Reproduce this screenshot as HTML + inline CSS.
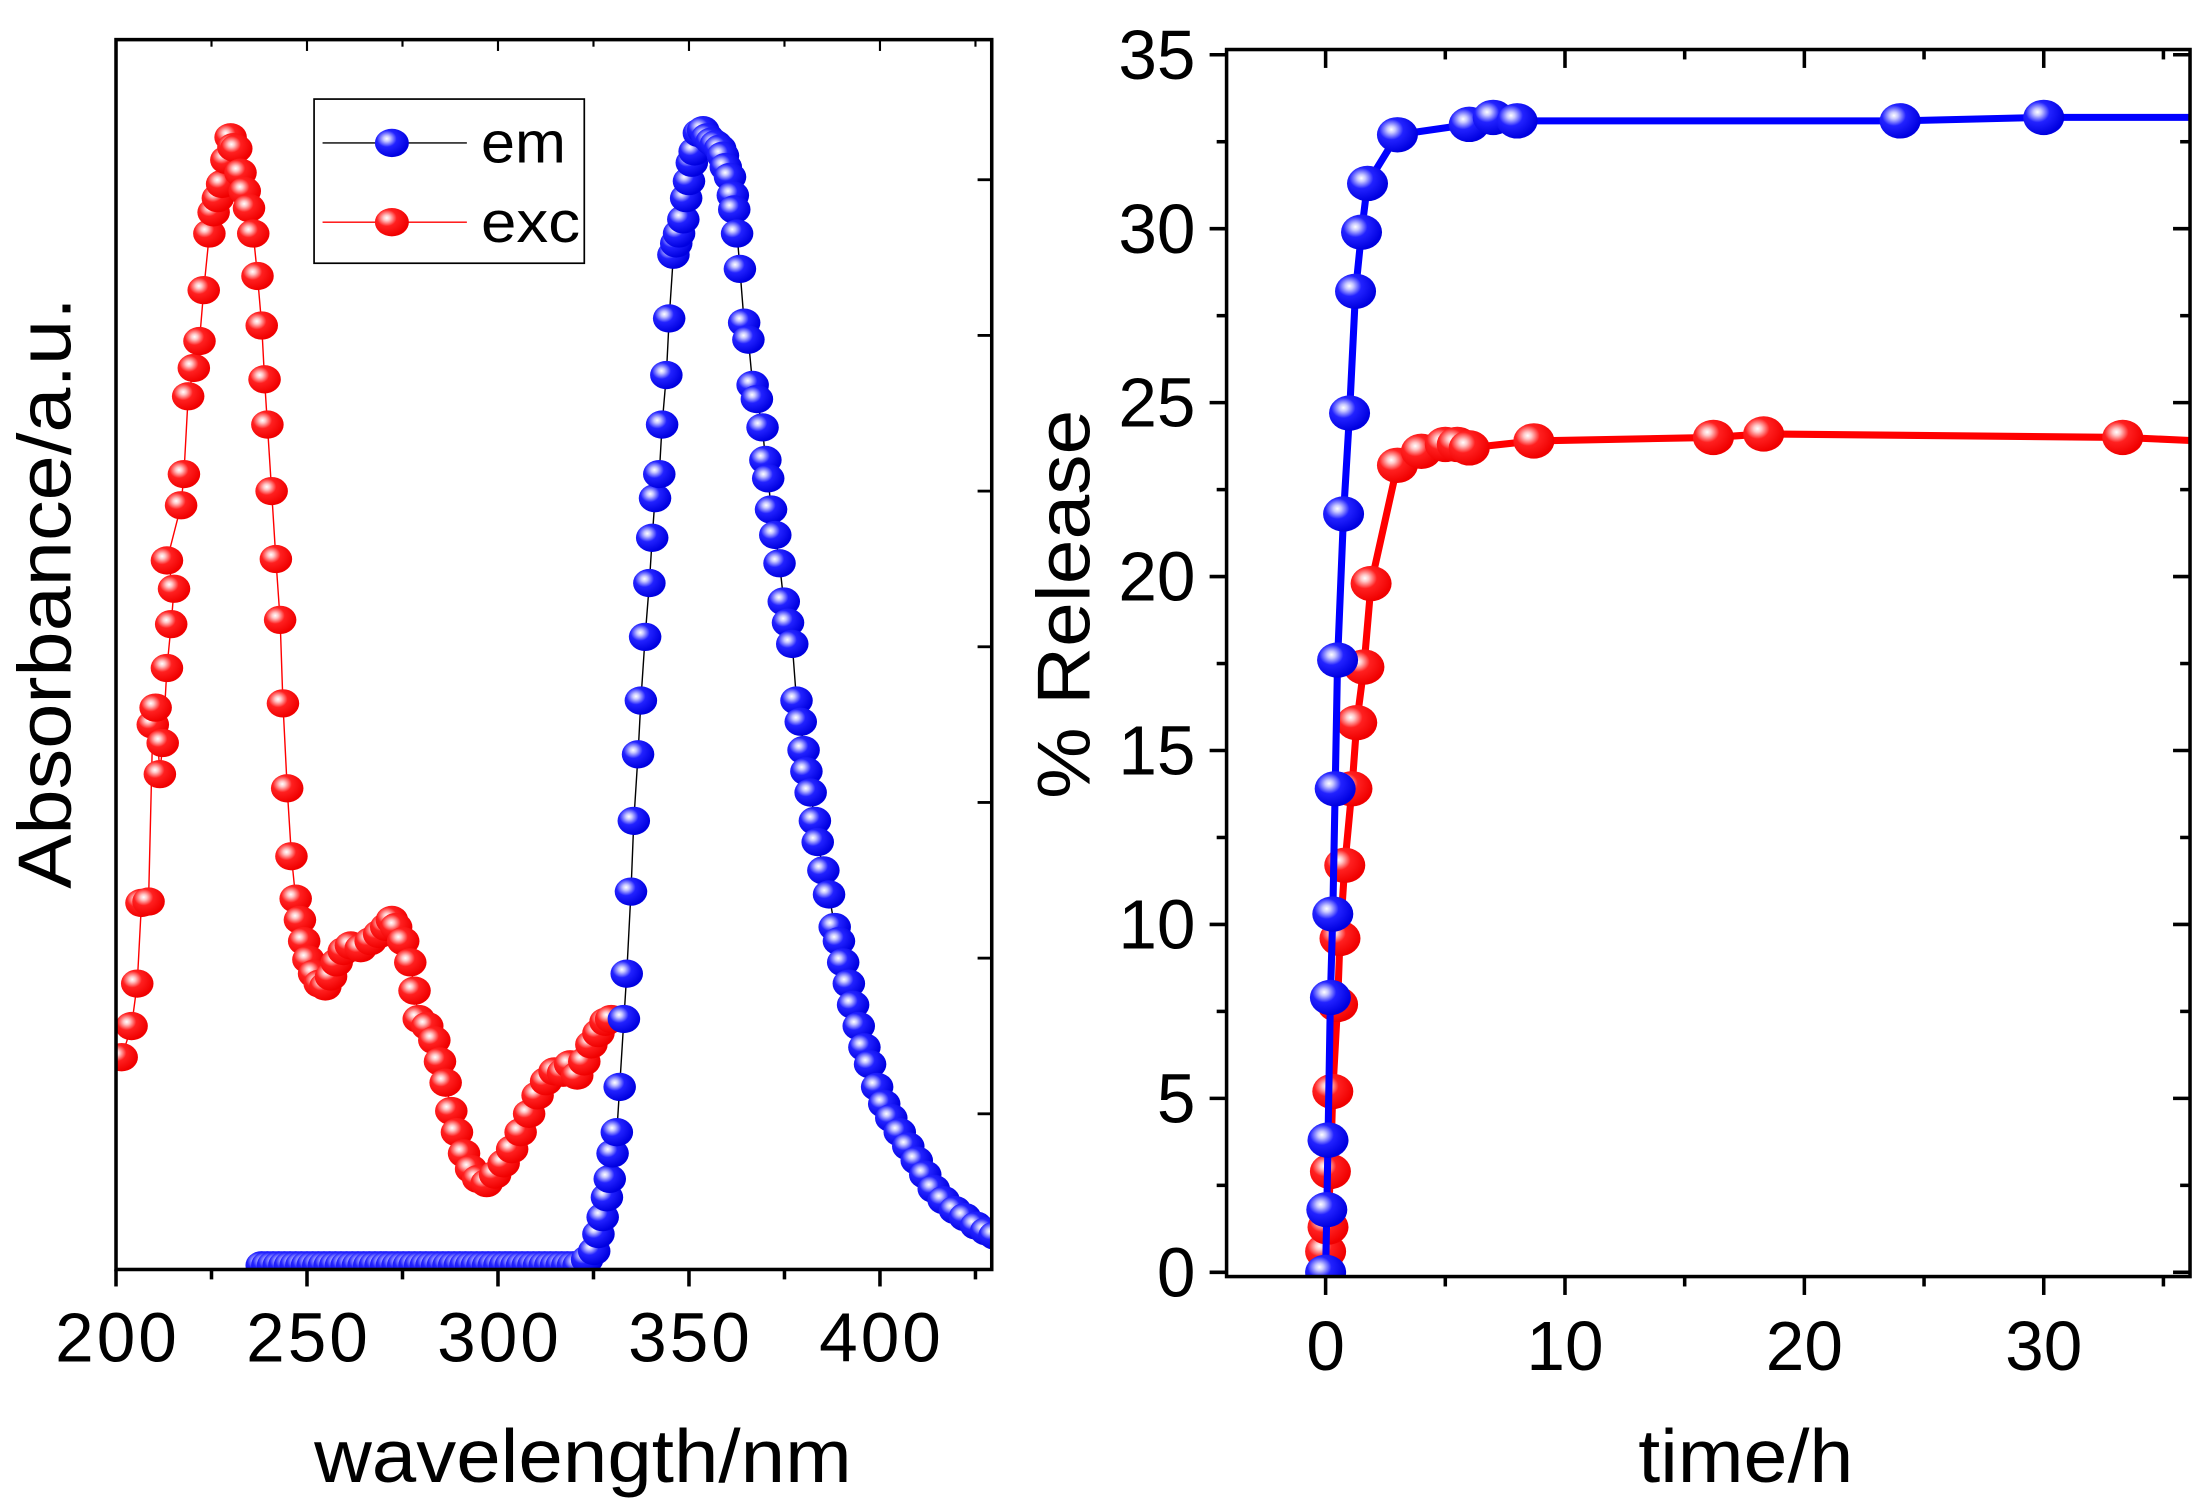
<!DOCTYPE html>
<html><head><meta charset="utf-8"><style>html,body{margin:0;padding:0;background:#fff}svg{display:block}</style></head>
<body>
<svg id="s" xmlns="http://www.w3.org/2000/svg" width="2207" height="1503" viewBox="0 0 1560 1062" preserveAspectRatio="none" font-family="Liberation Sans, Arial, sans-serif">
<defs>
<radialGradient id="gb" cx="0.35" cy="0.35" r="0.65"><stop offset="0" stop-color="#fff"/><stop offset="0.15" stop-color="#c8c8ff"/><stop offset="0.45" stop-color="#2222ff"/><stop offset="1" stop-color="#0000e0"/></radialGradient>
<radialGradient id="gr" cx="0.35" cy="0.35" r="0.65"><stop offset="0" stop-color="#fff"/><stop offset="0.15" stop-color="#ffc8c8"/><stop offset="0.45" stop-color="#ff2020"/><stop offset="1" stop-color="#f00000"/></radialGradient>
<clipPath id="c1"><rect x="82" y="28" width="619" height="869"/></clipPath>
<clipPath id="c2"><rect x="867" y="35" width="681" height="867"/></clipPath>
</defs>
<g id="L" clip-path="url(#c1)"></g>
<g id="R" clip-path="url(#c2)"></g>
<g id="ax" stroke="#000" fill="none"></g>
<g font-size="49" fill="#000">
<text x="82" y="962" text-anchor="middle" textLength="86">200</text><text x="217" y="962" text-anchor="middle" textLength="86">250</text><text x="352" y="962" text-anchor="middle" textLength="86">300</text><text x="487" y="962" text-anchor="middle" textLength="86">350</text><text x="622" y="962" text-anchor="middle" textLength="86">400</text>
<text x="412" y="1047" text-anchor="middle" font-size="53" textLength="380" lengthAdjust="spacingAndGlyphs">wavelength/nm</text>
<text transform="translate(50,419) rotate(-90)" text-anchor="middle" font-size="53" textLength="418" lengthAdjust="spacingAndGlyphs">Absorbance/a.u.</text>
<text x="1234" y="1047" text-anchor="middle" font-size="53" textLength="152" lengthAdjust="spacingAndGlyphs">time/h</text>
<text transform="translate(770,427) rotate(-90)" text-anchor="middle" font-size="53" textLength="275" lengthAdjust="spacingAndGlyphs">% Release</text>
</g>
<g id="Rl" font-size="49"></g>
<g>
<rect x="222" y="70" width="191" height="116" fill="#fff" stroke="#000" stroke-width="1.2"/>
<line x1="228" y1="101" x2="330" y2="101" stroke="#000" stroke-width="1"/>
<line x1="228" y1="157" x2="330" y2="157" stroke="#f00" stroke-width="1"/>
<ellipse cx="277" cy="101" rx="12" ry="10" fill="url(#gb)"/>
<ellipse cx="277" cy="157" rx="12" ry="10" fill="url(#gr)"/>
<text x="340" y="115" font-size="41" textLength="60" lengthAdjust="spacingAndGlyphs">em</text>
<text x="340" y="171" font-size="41" textLength="70" lengthAdjust="spacingAndGlyphs">exc</text>
</g>
</svg>
<script>
var NS="http://www.w3.org/2000/svg";
function el(p,t,a){var e=document.createElementNS(NS,t);for(var k in a)e.setAttribute(k,a[k]);p.appendChild(e);return e;}
var L=document.getElementById('L'),R=document.getElementById('R'),ax=document.getElementById('ax'),Rl=document.getElementById('Rl');
var red=[[86,747],[93,725],[97,695],[100,638],[105,637],[108,512],[110,500],[113,547],[115,525],[118,472],[121,441],[123,416],[118,396],[128,357],[130,335],[133,280],[137,260],[141,241],[144,205],[148,165],[151,150],[154,140],[157,130],[160,113],[163,97],[165,104],[167,105],[170,122],[173,135],[176,147],[179,165],[182,195],[185,230],[187,268],[189,300],[192,347],[195,395],[198,438],[200,497],[203,557],[206,605],[209,635],[212,650],[215,665],[218,678],[222,688],[226,695],[230,697],[234,690],[238,680],[243,672],[248,668],[255,670],[262,665],[268,660],[273,655],[277,650],[280,655],[285,665],[290,680],[293,700],[296,720],[302,725],[307,735],[311,750],[315,765],[319,785],[323,800],[328,815],[333,826],[338,833],[344,836],[350,830],[356,822],[362,812],[368,800],[374,787],[380,774],[386,764],[392,757],[398,758],[403,752],[408,760],[413,750],[418,738],[423,730],[428,722],[432,720]];
var blue=[];for(var x=185;x<=410;x+=4)blue.push([x,894]);
blue=blue.concat([[415,890],[420,884],[423,872],[426,860],[429,846],[431,833],[433,815],[436,800],[438,768],[441,720],[443,688],[446,630],[448,580],[451,533],[453,495],[456,450],[459,412],[461,380],[463,352],[466,335],[468,300],[471,265],[473,225],[476,180],[478,172],[480,165],[483,155],[485,140],[487,128],[489,115],[491,107],[494,94],[497,92],[500,97],[503,100],[506,102],[509,105],[511,110],[513,118],[516,125],[518,138],[519,148],[521,165],[523,190],[526,228],[529,240],[532,272],[535,282],[539,302],[541,325],[543,338],[545,360],[548,378],[551,398],[554,425],[557,440],[560,455],[563,495],[566,510],[568,530],[570,545],[573,560],[576,580],[578,595],[582,615],[586,632],[590,655],[593,665],[596,680],[600,695],[603,710],[607,725],[611,740],[615,752],[620,768],[625,780],[630,790],[636,800],[642,810],[648,820],[654,830],[660,840],[667,848],[675,855],[682,860],[690,866],[697,870],[703,873]]);
function series(g,pts,col,lw,grad,rx,ry){el(g,'polyline',{points:pts.map(function(p){return p.join(',')}).join(' '),fill:'none',stroke:col,'stroke-width':lw});pts.forEach(function(p){el(g,'ellipse',{cx:p[0],cy:p[1],rx:rx,ry:ry,fill:grad});});}
series(L,red,'#f00',1,'url(#gr)',11.5,10);
series(L,blue,'#000',1,'url(#gb)',11.5,10);
function X(t){return 937+t*16.92}function Y(v){return 899-v*24.58}
var rb=[[0,0],[0.05,1.8],[0.1,3.8],[0.2,7.9],[0.3,10.3],[0.4,13.9],[0.5,17.6],[0.75,21.8],[1,24.7],[1.25,28.2],[1.5,29.9],[1.75,31.3],[3,32.7],[6,33.0],[7,33.2],[8,33.1],[24,33.1],[30,33.2]];
var rr=[[0,0.6],[0.1,1.3],[0.2,2.9],[0.3,5.2],[0.5,7.7],[0.6,9.6],[0.8,11.7],[1.1,13.9],[1.3,15.8],[1.6,17.4],[1.9,19.8],[3,23.2],[4,23.6],[5,23.8],[5.5,23.8],[6,23.7],[8.7,23.9],[16.2,24.0],[18.3,24.1],[33.3,24.0]];
function rs(d,col,grad,end){var p=d.map(function(q){return [X(q[0]),Y(q[1])]});var lp=p.slice();lp.push([X(36.5),Y(end)]);
el(R,'polyline',{points:lp.map(function(q){return q.join(',')}).join(' '),fill:'none',stroke:col,'stroke-width':5,'stroke-linejoin':'round'});
p.forEach(function(q){el(R,'ellipse',{cx:q[0],cy:q[1],rx:14.5,ry:12.5,fill:grad});});}
rs(rr,'#f00','url(#gr)',23.9);
rs(rb,'#00f','url(#gb)',33.2);
el(ax,'rect',{x:82,y:28,width:619,height:869,'stroke-width':2.5});
for(var w=200;w<=425;w+=25){var xx=82+(w-200)*2.7;var mj=(w%50==0);el(ax,'line',{x1:xx,y1:897,x2:xx,y2:897+(mj?12:7),'stroke-width':2.5});el(ax,'line',{x1:xx,y1:28,x2:xx,y2:28+(mj?8:5),'stroke-width':1.5});}
for(var k=1;k<=7;k++){var yy=897-k*110;el(ax,'line',{x1:701,y1:yy,x2:691,y2:yy,'stroke-width':2});}
el(ax,'rect',{x:867,y:35,width:681,height:867,'stroke-width':2.5});
for(var v=0;v<=35;v+=2.5){var yy=Y(v);var mj=(v%5==0);el(ax,'line',{x1:867,y1:yy,x2:867-(mj?12:7),y2:yy,'stroke-width':2.5});el(ax,'line',{x1:1548,y1:yy,x2:1548-(mj?12:7),y2:yy,'stroke-width':2.5});
if(mj){var t=el(Rl,'text',{x:845,y:yy+17,'text-anchor':'end'});t.textContent=v;}}
for(var t0=0;t0<=35;t0+=5){var xx=X(t0);var mj=(t0%10==0);el(ax,'line',{x1:xx,y1:902,x2:xx,y2:902+(mj?13:7),'stroke-width':2.5});el(ax,'line',{x1:xx,y1:35,x2:xx,y2:35+(mj?13:7),'stroke-width':2.5});
if(mj){var t=el(Rl,'text',{x:xx,y:968,'text-anchor':'middle'});t.textContent=t0;}}
</script>
</body></html>
